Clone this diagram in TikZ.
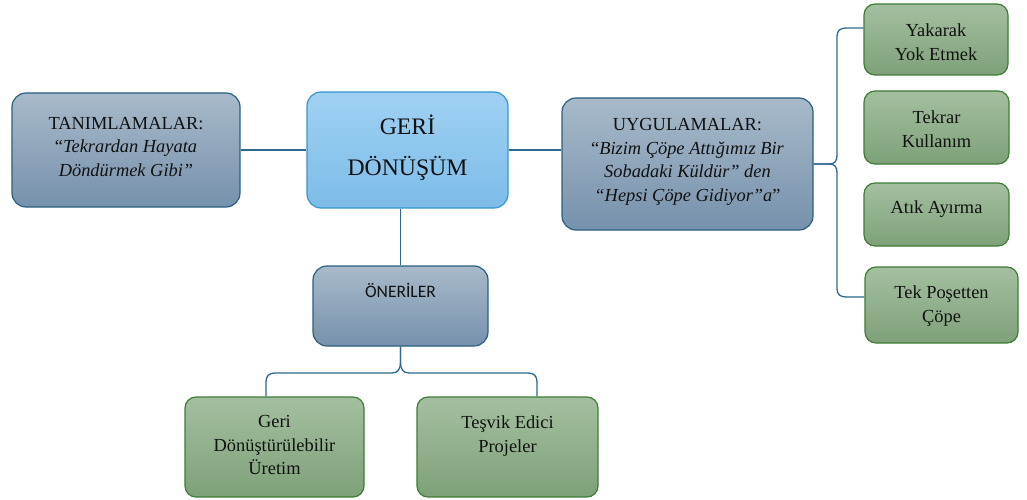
\documentclass[tikz,border=0pt]{standalone}
\usepackage{fontspec}
\setmainfont{Liberation Serif}
\newfontfamily\labelsans{Carlito}

\definecolor{slatetop}{HTML}{A8BACA}
\definecolor{slatebot}{HTML}{7691AC}
\definecolor{slateedge}{HTML}{2B5F80}
\definecolor{skytop}{HTML}{A0D1F3}
\definecolor{skybot}{HTML}{7CBCE8}
\definecolor{skyedge}{HTML}{3596CF}
\definecolor{leaftop}{HTML}{A4BFA0}
\definecolor{leafbot}{HTML}{7EA179}
\definecolor{leafedge}{HTML}{3E7D36}
\definecolor{linkc}{HTML}{2E688C}
\definecolor{ink}{HTML}{111111}

\begin{document}
\begin{tikzpicture}[x=1pt,y=-1pt,
  box/.style={draw, rounded corners=14pt, line width=1.2pt, inner sep=0pt},
  slate/.style={box, draw=slateedge, top color=slatetop, bottom color=slatebot},
  sky/.style={box, draw=skyedge, top color=skytop, bottom color=skybot},
  leaf/.style={box, rounded corners=11pt, draw=leafedge, top color=leaftop, bottom color=leafbot},
  txt/.style={align=center, font=\fontsize{18.4}{23.6}\selectfont, text=ink, inner sep=0pt},
  bigtxt/.style={align=center, font=\fontsize{23.7}{41}\selectfont, text=ink, inner sep=0pt},
  link/.style={draw=linkc, line width=1.3pt},
]
\useasboundingbox (0,0) rectangle (1027,500);

% central topic and its main branches
\node[sky, minimum width=201pt, minimum height=116pt] (geri) at (407.5,150) {};
\node[slate, minimum width=228pt, minimum height=114pt] (tan) at (126,150) {};
\node[slate, minimum width=251pt, minimum height=132pt] (uyg) at (687.5,164) {};
\node[slate, minimum width=175pt, minimum height=80pt] (oner) at (400.5,306) {};

% applications
\node[leaf, minimum width=144pt, minimum height=71pt] (yak) at (936,39.5) {};
\node[leaf, minimum width=145pt, minimum height=73pt] (tekrar) at (936.5,127.5) {};
\node[leaf, minimum width=145pt, minimum height=63pt] (atik) at (936.5,214.5) {};
\node[leaf, minimum width=153pt, minimum height=76pt] (pos) at (941.5,305) {};

% suggestions
\node[leaf, minimum width=179pt, minimum height=100pt] (gd) at (274.5,447) {};
\node[leaf, minimum width=181pt, minimum height=100pt] (ts) at (507.5,447) {};

% texts
\node[bigtxt] (geritxt) at (407.5,148) {GERİ\\DÖNÜŞÜM};
\node[txt] (tantxt) at (126,147) {TANIMLAMALAR:\\“\textit{Tekrardan Hayata}\\\textit{Döndürmek Gibi”}};
\node[txt] (uygtxt) at (687.5,162) {UYGULAMALAR:\\“\textit{Bizim Çöpe Attığımız Bir}\\\textit{Sobadaki Küldür” den}\\\textit{“Hepsi Çöpe Gidiyor”a}”};
\node[txt, font=\labelsans\fontsize{17.5}{21}\selectfont, anchor=base] (onertxt) at (400.5,297) {ÖNERİLER};
\node[txt] (yaktxt) at (936,42) {Yakarak\\Yok Etmek};
\node[txt] (tekrartxt) at (936.5,129) {Tekrar\\Kullanım};
\node[txt] (atiktxt) at (936.5,209) {Atık Ayırma};
\node[txt] (postxt) at (941.5,306) {Tek Poşetten\\Çöpe};
\node[txt] (gdtxt) at (274.5,445) {Geri\\Dönüştürülebilir\\Üretim};
\node[txt] (tstxt) at (507.5,436) {Teşvik Edici\\Projeler};

% helper points for the bracket arms
\coordinate (armtop) at (0,28);
\coordinate (armbot) at (0,297);
\coordinate (gdleg) at (266,0);
\coordinate (tsleg) at (537,0);

% straight links
\draw[link] (tan.east) -- (geri.west);
\draw[link] (geri.east) -- (uyg.west |- geri.east);
\draw[link] (geri.south -| oner.north) -- (oner.north);

% right bracket
\draw[link] (uyg.east) -- (829,164) .. controls (835,164) and (837,161) .. (837,155)
  -- (837,36) .. controls (837,31) and (840,28) .. (846,28) -- (yak.west |- armtop);
\draw[link] (uyg.east) -- (829,164) .. controls (835,164) and (837,167) .. (837,173)
  -- (837,289) .. controls (837,294) and (840,297) .. (846,297) -- (pos.west |- armbot);

% lower bracket
\draw[link] (oner.south) -- (400.5,362) .. controls (400.5,369) and (398,373) .. (392,373)
  -- (275,373) .. controls (269,373) and (266,376) .. (266,382) -- (gdleg |- gd.north);
\draw[link] (oner.south) -- (400.5,362) .. controls (400.5,369) and (403,373) .. (409,373)
  -- (528,373) .. controls (534,373) and (537,376) .. (537,382) -- (tsleg |- ts.north);
\end{tikzpicture}
\end{document}
